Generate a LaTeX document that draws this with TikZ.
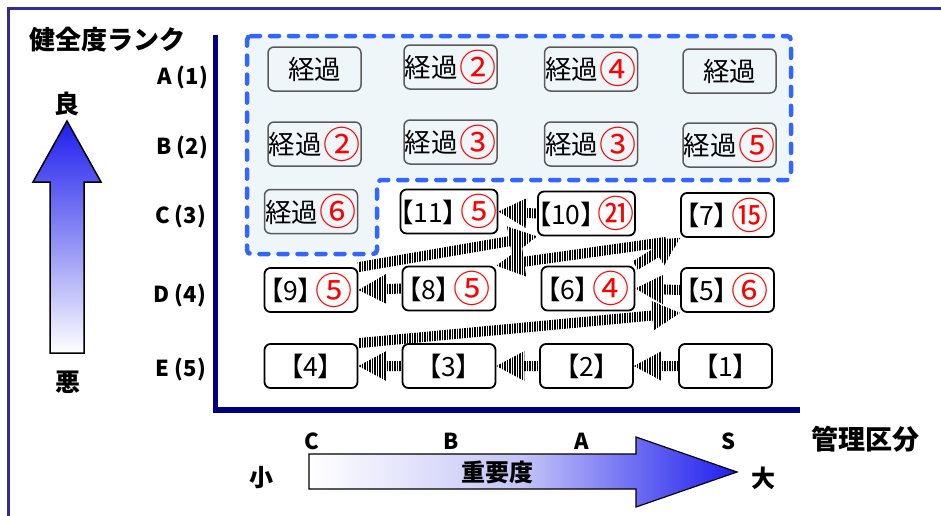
\documentclass[tikz,border=0pt]{standalone}
\usepackage{fontspec}
\setmainfont{Noto Sans CJK JP}
\newfontfamily\boxjp{Noto Sans CJK JP}[RawFeature=+palt]
\usetikzlibrary{calc,patterns.meta}
\definecolor{paleblue}{RGB}{239,246,249}
\definecolor{dashblue}{RGB}{51,102,255}
\definecolor{axisnavy}{RGB}{0,0,128}
\definecolor{framec}{RGB}{46,46,150}
\definecolor{boxgrey}{RGB}{90,90,90}
\definecolor{deepblue}{RGB}{30,30,238}
\definecolor{midblueV}{RGB}{140,140,245}
\definecolor{midblueH}{RGB}{195,195,248}
\pgfdeclarelayer{regionlayer}
\pgfdeclarelayer{arrowlayer}
\pgfsetlayers{regionlayer,arrowlayer,main}
\newcommand\myfs[1]{\fontsize{#1}{#1}\selectfont}
\newcommand\redn[1]{\kern1.5pt\raisebox{-3.5pt}{\scalebox{1.4}{\textcolor{red}{#1}}}}
\newcommand\redb[1]{\kern4pt\raisebox{-3.5pt}{\scalebox{1.4}{\textcolor{red}{#1}}}}
\newcommand\stripearrow[2]{%
  \coordinate (sah) at ($(#2)!28pt!(#1)$);
  \path[stripefill] ($(#1)!5pt!90:(#2)$) -- ($(sah)!5pt!90:(#2)$) -- ($(sah)!15pt!90:(#2)$) -- (#2)
    -- ($(sah)!15pt!-90:(#2)$) -- ($(sah)!5pt!-90:(#2)$) -- ($(#1)!5pt!-90:(#2)$) -- cycle;
}
\begin{document}
\begin{tikzpicture}[x=1pt,y=-1pt,
  greybox/.style={draw=boxgrey, line width=1.5pt, fill=paleblue, rounded corners=6pt,
    minimum width=93pt, minimum height=44pt, inner sep=0pt, font=\boxjp\myfs{26.5pt}},
  blackbox/.style={draw=black, line width=1.8pt, fill=white, rounded corners=6pt,
    minimum width=93pt, minimum height=44pt, inner sep=0pt, font=\boxjp\myfs{26.5pt}},
  rowlab/.style={anchor=east, inner sep=0pt, font=\bfseries\myfs{22pt}},
  collab/.style={inner sep=0pt, font=\bfseries\myfs{22pt}},
  biglab/.style={inner sep=0pt, font=\bfseries\myfs{25pt}},
  stripefill/.style={pattern={Lines[angle=90,distance=2.5pt,line width=1.2pt]}, pattern color=black}
]
\useasboundingbox (0,0) rectangle (941,515);
% outer frame
\draw[framec, line width=2.5pt] (8.5,520) -- (8.5,8.5) -- (945,8.5);
% title
\node[anchor=west, inner sep=0pt, font=\bfseries\myfs{26pt}] (title) at (29,40) {健全度ランク};
% axes
\draw[axisnavy, line width=5.5pt] (215.5,35) -- (215.5,410) -- (800,410);
% dashed region
\begin{pgfonlayer}{regionlayer}
\draw[dashblue, line width=4.5pt, dash pattern=on 9pt off 10pt, line cap=round, fill=paleblue, rounded corners=4pt]
  (247,36) -- (791,36) -- (791,180) -- (377,180) -- (377,254) -- (247,254) -- cycle;
\end{pgfonlayer}
% row labels
\node[rowlab] (ra) at (208,77) {A (1)};
\node[rowlab] (rb) at (208,147) {B (2)};
\node[rowlab] (rc) at (206,216) {C (3)};
\node[rowlab] (rd) at (206,295) {D (4)};
\node[rowlab] (re) at (206,369) {E (5)};
% left arrow
\path[draw=black, line width=1.5pt, top color=deepblue, bottom color=white, middle color=midblueV]
  (67,121) -- (101,182) -- (84,182) -- (84,353) -- (50,353) -- (50,182) -- (33,182) -- cycle;
\node[biglab] (good) at (67,104) {良};
\node[biglab] (bad) at (68,382) {悪};
% grey boxes
\node[greybox] (a1) at (314.5,69) {経過};
\node[greybox] (a2) at (450.5,67) {経過\redn{②}};
\node[greybox] (a3) at (591,69) {経過\redn{④}};
\node[greybox] (a4) at (729.5,71) {経過};
\node[greybox] (b1) at (314.5,144) {経過\redn{②}};
\node[greybox] (b2) at (450.5,142) {経過\redn{③}};
\node[greybox] (b3) at (591,144) {経過\redn{③}};
\node[greybox] (b4) at (729.5,145) {経過\redn{⑤}};
\node[greybox] (c1) at (311,211.5) {経過\redn{⑥}};
% black boxes
\node[blackbox] (n11) at (449,211.5) {【11】\redb{⑤}};
\node[blackbox] (n10) at (586.5,213.5) {【10】\redb{㉑}};
\node[blackbox] (n7) at (727.5,215) {【7】\redb{⑮}};
\node[blackbox] (n9) at (311,290) {【9】\redb{⑤}};
\node[blackbox] (n8) at (449,288.5) {【8】\redb{⑤}};
\node[blackbox] (n6) at (588,288.5) {【6】\redb{④}};
\node[blackbox] (n5) at (727.5,290) {【5】\redb{⑥}};
\node[blackbox] (n4) at (311,366) {【4】};
\node[blackbox] (n3) at (449,366) {【3】};
\node[blackbox] (n2) at (586.5,366) {【2】};
\node[blackbox] (n1) at (725.5,366) {【1】};
% striped arrows
\begin{pgfonlayer}{arrowlayer}
\stripearrow{n1.west}{n2.east}
\stripearrow{n2.west}{n3.east}
\stripearrow{n3.west}{n4.east}
\stripearrow{n4.north east}{n5.south west}
\stripearrow{n5.west}{n6.east}
\stripearrow{n6.north east}{n7.south west}
\coordinate (t78) at ($(n7.south west)+(-14,4)$);
\stripearrow{t78}{n8.north east}
\stripearrow{n8.west}{n9.east}
\stripearrow{n9.north east}{n10.south west}
\stripearrow{n10.west}{n11.east}
\end{pgfonlayer}
% bottom arrow
\path[draw=black, line width=1.2pt, left color=white, right color=deepblue, middle color=midblueH]
  (309,454) -- (636,454) -- (636,437) -- (737,472) -- (636,507) -- (636,489) -- (309,489) -- cycle;
\node[collab] (lc) at (312,441) {C};
\node[collab] (lb) at (451,441) {B};
\node[collab] (la) at (582,441) {A};
\node[collab] (ls) at (729,441) {S};
\node[collab, font=\bfseries\myfs{24pt}] (small) at (261,478) {小};
\node[collab, font=\bfseries\myfs{24pt}] (large) at (763,478) {大};
\node[collab, font=\bfseries\myfs{24pt}] (imp) at (497,472) {重要度};
\node[collab, font=\bfseries\myfs{27pt}] (kanri) at (865,439) {管理区分};
\end{tikzpicture}
\end{document}
